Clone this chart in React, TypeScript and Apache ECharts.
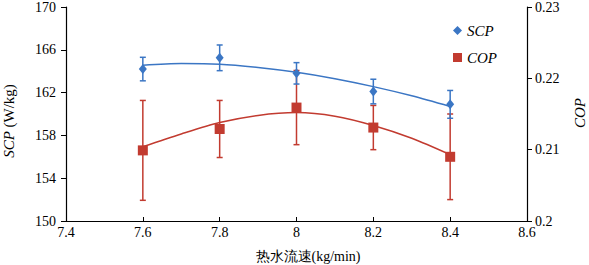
import React, { useEffect, useRef } from "react";
import * as echarts from "echarts";

const xValues = [7.6, 7.8, 8.0, 8.2, 8.4];
const scpValues = [164.2, 165.25, 163.8, 162.1, 160.9];
const scpErrors = [1.1, 1.2, 1.0, 1.15, 1.3];
const copValues = [0.2099, 0.2129, 0.2159, 0.2131, 0.209];
const copErrors = [0.007, 0.004, 0.0052, 0.0031, 0.006];

const trendX = [7.6, 7.7, 7.8, 7.9, 8.0, 8.1, 8.2, 8.3, 8.4];
const scpTrend = [164.56, 164.72, 164.66, 164.35, 163.9, 163.3, 162.56, 161.7, 160.7];
const copTrend = [0.2104, 0.2122, 0.2138, 0.2148, 0.2152, 0.2147, 0.2134, 0.2116, 0.2093];

const BLUE = "#3B76C4";
const RED = "#C23B30";
const FONT = "Times New Roman, Liberation Serif, DejaVu Serif, serif";

function errSeries(name: string, vals: number[], errs: number[], color: string, yAxisIndex: number, z: number) {
  return {
    type: "custom",
    name,
    yAxisIndex,
    z,
    data: xValues.map((x, i) => [x, vals[i] - errs[i], vals[i] + errs[i]]),
    encode: { x: 0, y: [1, 2] },
    renderItem: (params: any, api: any) => {
      const x = api.value(0);
      const lo = api.coord([x, api.value(1)]);
      const hi = api.coord([x, api.value(2)]);
      const w = 3;
      const st = { stroke: color, lineWidth: 1.5 };
      return {
        type: "group",
        children: [
          { type: "line", shape: { x1: hi[0], y1: hi[1], x2: lo[0], y2: lo[1] }, style: st },
          { type: "line", shape: { x1: hi[0] - w, y1: hi[1], x2: hi[0] + w, y2: hi[1] }, style: st },
          { type: "line", shape: { x1: lo[0] - w, y1: lo[1], x2: lo[0] + w, y2: lo[1] }, style: st },
        ],
      };
    },
  };
}

export default function App() {
  const ref = useRef<HTMLDivElement>(null);
  useEffect(() => {
    document.body.style.margin = "0";
    const chart = echarts.init(ref.current!, null, { renderer: "svg" });
    const labelStyle = { color: "#000", fontSize: 14, fontFamily: FONT };
    chart.setOption({
      animation: false,
      backgroundColor: "#fff",
      textStyle: { fontFamily: FONT },
      grid: { left: 66, right: 62, top: 7, bottom: 44 },
      legend: {
        orient: "vertical",
        left: 448,
        top: 18,
        itemWidth: 9,
        itemHeight: 9,
        itemGap: 12,
        data: [
          { name: "SCP", icon: "diamond" },
          { name: "COP", icon: "rect" },
        ],
        textStyle: { fontFamily: FONT, fontStyle: "italic", fontSize: 15, color: "#000" },
      },
      xAxis: {
        type: "value",
        min: 7.4,
        max: 8.6,
        interval: 0.2,
        axisLine: { lineStyle: { color: "#000", width: 1.2 } },
        axisTick: { inside: true, length: 4, lineStyle: { color: "#000" } },
        splitLine: { show: false },
        axisLabel: {
          ...labelStyle,
          margin: 4,
          formatter: (v: number) => String(Number(v.toFixed(1))),
        },
      },
      yAxis: [
        {
          type: "value",
          position: "left",
          min: 150,
          max: 170,
          interval: 4,
          axisLine: { show: true, lineStyle: { color: "#000", width: 1.2 } },
          axisTick: { show: true, inside: false, length: 5, lineStyle: { color: "#000" } },
          splitLine: { show: false },
          axisLabel: { ...labelStyle, margin: 10 },
        },
        {
          type: "value",
          position: "right",
          min: 0.2,
          max: 0.23,
          interval: 0.01,
          axisLine: { show: true, lineStyle: { color: "#000", width: 1.2 } },
          axisTick: { show: true, inside: false, length: 5, lineStyle: { color: "#000" } },
          splitLine: { show: false },
          axisLabel: {
            ...labelStyle,
            margin: 8,
            formatter: (v: number) => String(Number(v.toFixed(2))),
          },
        },
      ],
      graphic: [
        {
          type: "text",
          x: 9,
          y: 121,
          rotation: Math.PI / 2,
          style: {
            text: "{i|SCP} (W/kg)",
            rich: { i: { fontStyle: "italic", fontFamily: FONT, fontSize: 15 } },
            fontFamily: FONT,
            fontSize: 15,
            fill: "#000",
            align: "center",
            verticalAlign: "middle",
          },
        },
        {
          type: "text",
          x: 580,
          y: 113,
          rotation: Math.PI / 2,
          style: {
            text: "COP",
            fontFamily: FONT,
            fontStyle: "italic",
            fontSize: 15,
            fill: "#000",
            align: "center",
            verticalAlign: "middle",
          },
        },
        {
          type: "text",
          x: 308,
          y: 256,
          style: {
            text: "热水流速(kg/min)",
            fontFamily: FONT,
            fontSize: 14,
            fill: "#000",
            align: "center",
            verticalAlign: "middle",
          },
        },
      ],
      series: [
        {
          type: "line",
          name: "COP趋势",
          yAxisIndex: 1,
          data: trendX.map((x, i) => [x, copTrend[i]]),
          smooth: 0.3,
          showSymbol: false,
          lineStyle: { color: RED, width: 1.5 },
          itemStyle: { color: RED },
          z: 2,
        },
        errSeries("COP误差", copValues, copErrors, RED, 1, 3),
        {
          type: "scatter",
          name: "COP",
          yAxisIndex: 1,
          symbol: "rect",
          symbolSize: 10,
          data: xValues.map((x, i) => [x, copValues[i]]),
          itemStyle: { color: RED, opacity: 1 },
          z: 4,
        },
        {
          type: "line",
          name: "SCP趋势",
          yAxisIndex: 0,
          data: trendX.map((x, i) => [x, scpTrend[i]]),
          smooth: 0.3,
          showSymbol: false,
          lineStyle: { color: BLUE, width: 1.5 },
          itemStyle: { color: BLUE },
          z: 5,
        },
        errSeries("SCP误差", scpValues, scpErrors, BLUE, 0, 6),
        {
          type: "scatter",
          name: "SCP",
          yAxisIndex: 0,
          symbol: "diamond",
          symbolSize: [8, 10],
          data: xValues.map((x, i) => [x, scpValues[i]]),
          itemStyle: { color: BLUE, opacity: 1 },
          z: 7,
        },
      ],
    });
    return () => chart.dispose();
  }, []);
  return <div ref={ref} style={{ width: 589, height: 265 }} />;
}
